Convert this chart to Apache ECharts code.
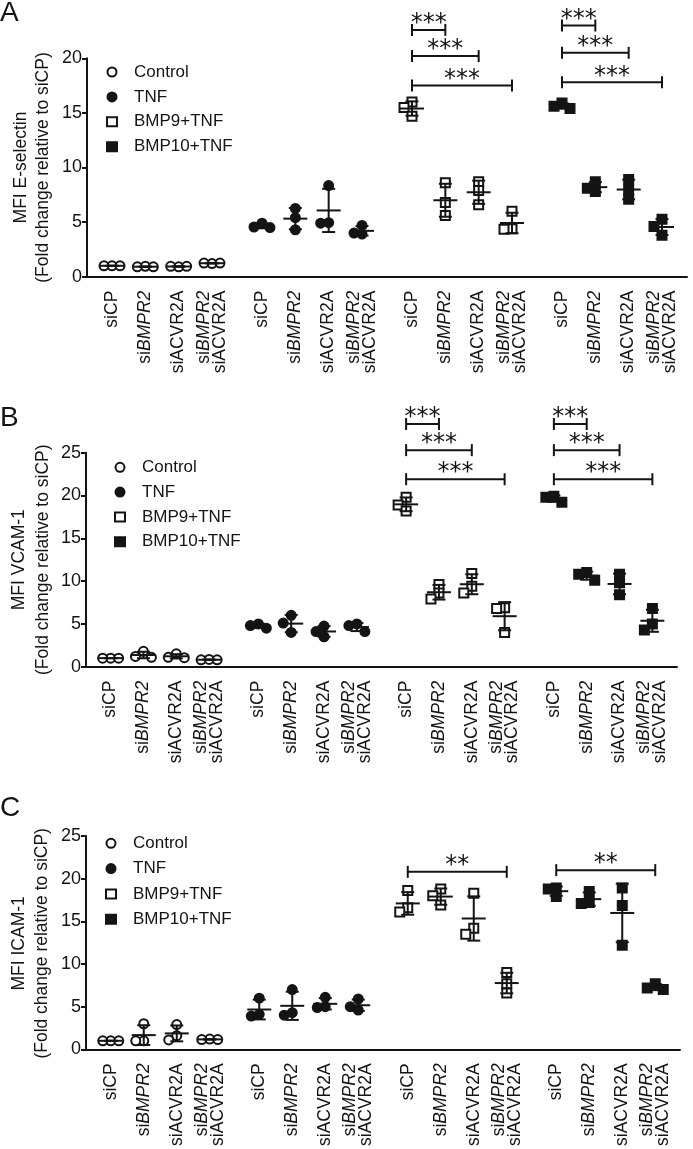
<!DOCTYPE html>
<html><head><meta charset="utf-8">
<script src="https://cdn.jsdelivr.net/npm/echarts@6/dist/echarts.min.js"></script>
<style>html,body{margin:0;padding:0;background:#fff}#c{width:693px;height:1149px}</style>
</head><body><div id="c"></div>
<script>
// ---------- data ----------
const treatments = ['Control', 'TNF', 'BMP9+TNF', 'BMP10+TNF'];
const sirnas = ['siCP', 'siBMPR2', 'siACVR2A', 'siBMPR2/siACVR2A'];
const panelLetters = ['A', 'B', 'C'];
const markers = ['MFI E-selectin', 'MFI VCAM-1', 'MFI ICAM-1'];
const yTitle2 = '(Fold change relative to siCP)';
const yMax = [20, 25, 25];
const yStep = 5;

// E-selectin (A): [siCP, siBMPR2, siACVR2A, combo] x 3 replicates
const eselControl = [[1.0, 1.0, 1.0], [0.95, 0.9, 0.9], [0.9, 0.95, 0.95], [1.2, 1.25, 1.25]];
const eselTNF     = [[4.9, 4.55, 4.5], [6.25, 5.4, 4.3], [8.35, 4.95, 4.9], [4.7, 4.0, 3.9]];
const eselBMP9    = [[16.0, 15.5, 14.7], [8.6, 6.8, 5.6], [8.7, 7.9, 6.6], [6.0, 4.4, 4.35]];
const eselBMP10   = [[15.9, 15.6, 15.4], [8.7, 8.1, 7.8], [8.9, 7.95, 7.1], [5.25, 4.6, 3.8]];
// VCAM-1 (B)
const vcamControl = [[1.0, 1.0, 1.0], [1.8, 1.2, 1.1], [1.5, 1.1, 1.05], [0.85, 0.8, 0.8]];
const vcamTNF     = [[5.0, 4.8, 4.5], [6.0, 5.1, 4.0], [4.75, 4.1, 3.5], [5.0, 4.8, 4.1]];
const vcamBMP9    = [[19.8, 18.9, 18.2], [9.6, 8.6, 7.9], [10.9, 9.4, 8.6], [6.9, 6.8, 4.0]];
const vcamBMP10   = [[19.9, 19.8, 19.2], [11.0, 10.8, 10.1], [10.8, 9.8, 8.4], [6.8, 5.0, 4.3]];
// ICAM-1 (C)
const icamControl = [[1.0, 1.0, 1.0], [3.0, 1.0, 1.0], [2.9, 1.6, 1.1], [1.2, 1.15, 1.15]];
const icamTNF     = [[6.0, 4.1, 3.9], [7.0, 4.3, 4.0], [6.1, 5.0, 4.9], [5.9, 5.0, 4.6]];
const icamBMP9    = [[18.6, 16.6, 16.1], [18.8, 18.0, 16.9], [18.3, 14.2, 13.5], [9.0, 7.7, 6.6]];
const icamBMP10   = [[18.9, 18.8, 17.9], [18.5, 17.2, 17.1], [18.9, 16.85, 12.2], [7.7, 7.2, 7.0]];

// significance brackets: [treatment, fromSirna, toSirna, height, label]
const eselSig = [[2, 0, 1, 22.6, '***'], [2, 0, 2, 20.2, '***'], [2, 0, 3, 17.5, '***'],
                 [3, 0, 1, 23.0, '***'], [3, 0, 2, 20.5, '***'], [3, 0, 3, 17.8, '***']];
const vcamSig = [[2, 0, 1, 28.35, '***'], [2, 0, 2, 25.3, '***'], [2, 0, 3, 21.9, '***'],
                 [3, 0, 1, 28.35, '***'], [3, 0, 2, 25.3, '***'], [3, 0, 3, 21.9, '***']];
const icamSig = [[2, 0, 3, 20.8, '**'], [3, 0, 3, 21.0, '**']];

const panels = [
  [eselControl, eselTNF, eselBMP9, eselBMP10],
  [vcamControl, vcamTNF, vcamBMP9, vcamBMP10],
  [icamControl, icamTNF, icamBMP9, icamBMP10]
];
const sigs = [eselSig, vcamSig, icamSig];

// ---------- layout / style ----------
const INK = '#141414';
const FONT = "'Liberation Sans', Arial, Helvetica, sans-serif";
const grids = [
  { left: 87, top: 58.3, width: 600, height: 218.4 },
  { left: 86, top: 452.7, width: 591, height: 214 },
  { left: 86, top: 836, width: 594, height: 214.7 }
];
const legendPos = [
  { left: 106, top: 63, itemGap: 6.9 },
  { left: 114, top: 458.3, itemGap: 6.8 },
  { left: 105, top: 834.3, itemGap: 7.3 }
];
const titleX = [[21, 43], [19, 43], [19.5, 42.5]];
const letterY = [14, 419, 809];

// slot index on the category axis (gaps between siRNAs and between treatment groups)
function slotOf(g, i) { return 1 + 9 * g + 2 * i; }
function buildSlots() {
  const s = [''];
  for (let g = 0; g < 4; g++) {
    for (let i = 0; i < 4; i++) { s.push(sirnas[i]); if (i < 3) s.push(''); }
    s.push(''); if (g < 3) s.push('');
  }
  return s;
}
const slots = buildSlots();

function meanSd(a) {
  const m = a.reduce((s, v) => s + v, 0) / a.length;
  const sd = Math.sqrt(a.reduce((s, v) => s + (v - m) * (v - m), 0) / (a.length - 1));
  return [m, sd];
}
const STEP = 8;
function jitter(vals, pxPerUnit) {
  const placed = [], out = [];
  vals.forEach(v => {
    const py = v * pxPerUnit;
    for (const dx of [0, -STEP, STEP, -2 * STEP, 2 * STEP]) {
      if (placed.every(p => Math.abs(p.dx - dx) >= STEP || Math.abs(p.py - py) >= STEP)) {
        placed.push({ dx, py }); out.push(dx); break;
      }
    }
  });
  return out;
}

const symStyles = [
  { symbol: 'circle', color: '#fff' },
  { symbol: 'circle', color: INK },
  { symbol: 'rect', color: '#fff' },
  { symbol: 'rect', color: INK }
];

const option = {
  animation: false,
  backgroundColor: '#fff',
  textStyle: { fontFamily: FONT },
  grid: grids.map(g => Object.assign({ containLabel: false }, g)),
  xAxis: grids.map((g, p) => ({
    type: 'category', gridIndex: p, data: slots, boundaryGap: true,
    axisLine: { lineStyle: { color: INK, width: 2 } },
    axisTick: { alignWithLabel: true, length: 6, lineStyle: { color: INK, width: 2 },
                interval: (idx, val) => val !== '' },
    axisLabel: {
      interval: (idx, val) => val !== '', rotate: 90, margin: 14,
      color: INK, fontSize: 17.5, fontFamily: FONT, lineHeight: 16,
      formatter: v => {
        if (v === 'siBMPR2') return '{n|si}{i|BMPR2}';
        if (v === 'siBMPR2/siACVR2A') return '{n|si}{i|BMPR2}\n{n|siACVR2A}';
        return '{n|' + v + '}';
      },
      rich: {
        n: { fontSize: 17.5, fontFamily: FONT, color: INK, lineHeight: 16 },
        i: { fontSize: 17.5, fontFamily: FONT, color: INK, fontStyle: 'italic', lineHeight: 16 }
      }
    },
    splitLine: { show: false }
  })),
  yAxis: grids.map((g, p) => ({
    type: 'value', gridIndex: p, min: 0, max: yMax[p], interval: yStep,
    axisLine: { show: true, lineStyle: { color: INK, width: 2 } },
    axisTick: { show: true, length: 5, lineStyle: { color: INK, width: 2 } },
    axisLabel: { color: INK, fontSize: 18, fontFamily: FONT, margin: 5 },
    splitLine: { show: false }
  })),
  legend: legendPos.map(l => ({
    orient: 'vertical', left: l.left, top: l.top, itemGap: l.itemGap, padding: 0,
    itemWidth: 10, itemHeight: 9, symbolKeepAspect: true, selectedMode: false,
    textStyle: { fontSize: 17, fontFamily: FONT, color: INK, lineHeight: 18, padding: [0, 0, 0, 12] },
    data: treatments.map((t, k) => ({ name: t, icon: symStyles[k].symbol }))
  })),
  graphic: [],
  series: []
};

panels.forEach((panel, p) => {
  const pxPerUnit = grids[p].height / yMax[p];
  const meanData = [];
  panel.forEach((arr, g) => {
    const data = [];
    arr.forEach((vals, i) => {
      const offs = jitter(vals, pxPerUnit);
      vals.forEach((v, r) => data.push({ value: [slotOf(g, i), v], symbolOffset: [offs[r], 0] }));
      const [m, sd] = meanSd(vals);
      meanData.push([slotOf(g, i), m, sd]);
    });
    option.series.push({
      type: 'scatter', name: treatments[g], xAxisIndex: p, yAxisIndex: p,
      symbol: symStyles[g].symbol, symbolSize: 9, z: 3,
      itemStyle: { color: symStyles[g].color, borderColor: INK, borderWidth: 2, opacity: 1 },
      emphasis: { disabled: true },
      data
    });
  });
  option.series.push({
    type: 'custom', xAxisIndex: p, yAxisIndex: p, z: 5, silent: true,
    encode: { x: 0, y: 1 }, data: meanData,
    renderItem: (params, api) => {
      const x = api.value(0), m = api.value(1), sd = api.value(2);
      const pm = api.coord([x, m]), pt = api.coord([x, m + sd]), pb = api.coord([x, m - sd]);
      const st = { stroke: INK, lineWidth: 2 };
      return { type: 'group', children: [
        { type: 'line', shape: { x1: pm[0] - 12, y1: pm[1], x2: pm[0] + 12, y2: pm[1] }, style: st },
        { type: 'line', shape: { x1: pt[0], y1: pt[1], x2: pb[0], y2: pb[1] }, style: st },
        { type: 'line', shape: { x1: pt[0] - 6.5, y1: pt[1], x2: pt[0] + 6.5, y2: pt[1] }, style: st },
        { type: 'line', shape: { x1: pb[0] - 6.5, y1: pb[1], x2: pb[0] + 6.5, y2: pb[1] }, style: st }
      ] };
    }
  });
  const sig = sigs[p];
  option.series.push({
    type: 'custom', xAxisIndex: p, yAxisIndex: p, z: 5, silent: true, clip: false,
    encode: { x: 0, y: 1 },
    data: sig.map(s => [slotOf(s[0], s[1]), s[3], slotOf(s[0], s[2])]),
    renderItem: (params, api) => {
      const a = api.coord([api.value(0), api.value(1)]);
      const b = api.coord([api.value(2), api.value(1)]);
      const st = { stroke: INK, lineWidth: 2 };
      return { type: 'group', children: [
        { type: 'line', shape: { x1: a[0], y1: a[1], x2: b[0], y2: b[1] }, style: st },
        { type: 'line', shape: { x1: a[0], y1: a[1] - 6, x2: a[0], y2: a[1] + 6 }, style: st },
        { type: 'line', shape: { x1: b[0], y1: b[1] - 6, x2: b[0], y2: b[1] + 6 }, style: st },
        { type: 'text', style: { text: sig[params.dataIndex][4], x: (a[0] + b[0]) / 2, y: a[1] + 6,
          align: 'center', verticalAlign: 'bottom', fill: INK, fontSize: 24, fontFamily: "'DejaVu Sans', sans-serif" } }
      ] };
    }
  });
  // axis titles and panel letter
  const cy = grids[p].top + grids[p].height / 2;
  option.graphic.push(
    { type: 'text', x: titleX[p][0], y: cy, rotation: Math.PI / 2,
      style: { text: markers[p], align: 'center', verticalAlign: 'middle', fill: INK, fontSize: 17.5, fontFamily: FONT } },
    { type: 'text', x: titleX[p][1], y: cy, rotation: Math.PI / 2,
      style: { text: yTitle2, align: 'center', verticalAlign: 'middle', fill: INK, fontSize: 17.5, fontFamily: FONT } },
    { type: 'text', left: 0, top: letterY[p] - 15,
      style: { text: panelLetters[p], fill: INK, fontSize: 28, fontFamily: FONT } }
  );
});

const chart = echarts.init(document.getElementById('c'), null, { renderer: 'canvas' });
chart.setOption(option);
</script></body></html>
